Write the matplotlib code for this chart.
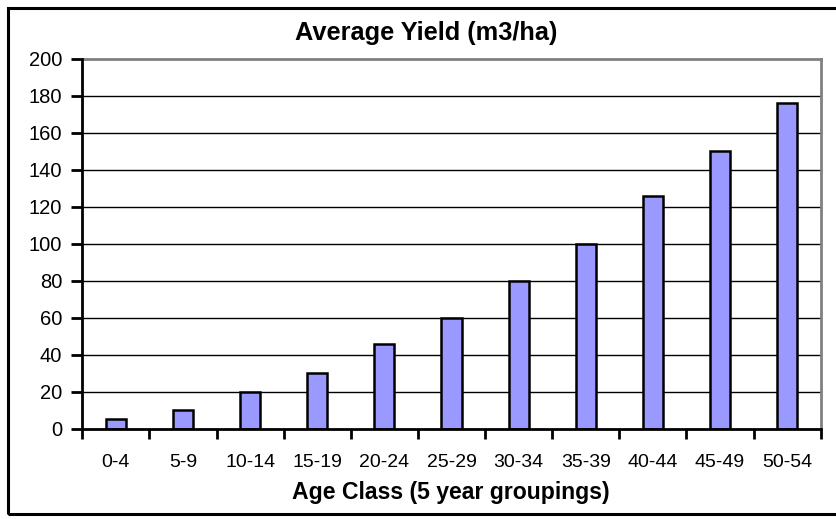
import matplotlib
matplotlib.use("Agg")
import matplotlib.pyplot as plt
from matplotlib.patches import Rectangle
import numpy as np

categories = ["0-4", "5-9", "10-14", "15-19", "20-24", "25-29", "30-34", "35-39", "40-44", "45-49", "50-54"]
yields = [5, 10, 20, 30, 46, 60, 80, 100, 126, 150, 176]
y_ticks = [0, 20, 40, 60, 80, 100, 120, 140, 160, 180, 200]

plt.rcParams['font.family'] = ['Liberation Sans', 'DejaVu Sans']

W, H = 836, 519
fig = plt.figure(figsize=(W / 100, H / 100), dpi=100)
ax = fig.add_axes([82.3 / W, 1 - 428.7 / H, (820.7 - 82.3) / W, (428.7 - 59) / H])

x = np.arange(len(categories))
ax.bar(x, yields, width=0.3, color="#9999FF", edgecolor="black", linewidth=1.8, zorder=3)

ax.set_xlim(-0.5, len(categories) - 0.5)
ax.set_ylim(0, 200)
ax.set_yticks(y_ticks)
ax.set_yticklabels([str(v) for v in y_ticks], fontsize=14.5)
for v in y_ticks[1:-1]:
    ax.axhline(v, color="black", linewidth=1.0, zorder=1)

ax.set_xticks(np.arange(-0.5, len(categories), 1.0))
ax.set_xticklabels([])
ax.set_xticks(x, minor=True)
ax.set_xticklabels(categories, minor=True, fontsize=14)
ax.tick_params(axis="x", which="major", direction="out", length=7, width=2, color="black")
ax.tick_params(axis="x", which="minor", length=0, pad=18)
ax.tick_params(axis="y", direction="out", length=8, width=2, color="black", pad=6.5)

for s in ["left", "bottom"]:
    ax.spines[s].set_color("black")
    ax.spines[s].set_linewidth(2)
    ax.spines[s].set_zorder(4)
for s in ["top", "right"]:
    ax.spines[s].set_color("#808080")
    ax.spines[s].set_linewidth(2)

fig.text(426 / W, 1 - 33 / H, "Average Yield (m3/ha)", ha="center", va="center",
         fontsize=18.3, fontweight="bold")
fig.text(451 / W, 1 - 492 / H, "Age Class (5 year groupings)", ha="center", va="center",
         fontsize=16.6, fontweight="bold")

border = Rectangle((7.5 / W, 1 - 513.5 / H), 1.2, (513.5 - 7.5) / H, transform=fig.transFigure,
                   fill=False, edgecolor="black", linewidth=2.2, clip_on=False)
fig.patches.append(border)

fig.savefig("out.png", dpi=100, facecolor="white")
